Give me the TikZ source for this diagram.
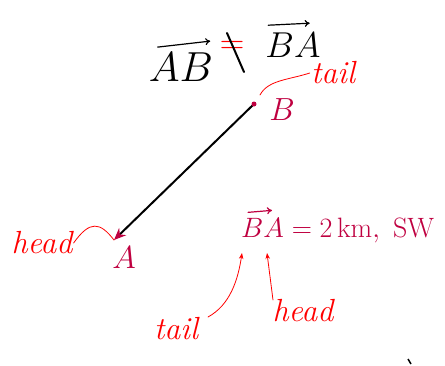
\documentclass[tikz,border=0pt]{standalone}
\usepackage{fix-cm}
\usepackage{amsmath}
\usetikzlibrary{arrows.meta, calc}

\begin{document}
\begin{tikzpicture}[x=1pt, y=-1pt,
    ink/.style={font=\fontsize{32}{34}\selectfont, inner sep=1pt},
    note/.style={red, font=\fontsize{32}{34}\selectfont\itshape, inner sep=1pt},
    vecbar/.style={line width=1.2pt, line cap=round, -{To[length=5pt, width=7pt]}},
    pointer/.style={red, thick, line cap=round}]
  \useasboundingbox (0,0) rectangle (445,365);
  % Title: AB is not BA
  \node[font=\fontsize{42}{44}\selectfont, anchor=base, inner sep=1pt] (ab) at (181,81) {$AB$};
  \draw[vecbar] ($(ab.north west)+(10,-4)$) -- ($(ab.north east)+(-4,-10)$);
  \node[red, font=\fontsize{34}{36}\selectfont, inner sep=0pt] (neq) at (232,47) {$=$};
  \draw[line width=2pt, line cap=round] (227,33) -- (244,72);
  \node[font=\fontsize{36}{38}\selectfont, anchor=base, inner sep=1pt] (ba) at (293,57) {$BA$};
  \draw[vecbar] ($(ba.north west)+(4,-6)$) -- ($(ba.north east)+(-12,-8)$);
  % The displacement from B to A
  \coordinate (B) at (254,104);
  \coordinate (A) at (114,240);
  \draw[line width=2pt, -{Stealth[purple, length=12pt, width=10pt]}] (B) -- (A);
  \fill[purple] (B) circle (2.5pt);
  \node[ink, purple] (labB) at (282,110) {$B$};
  \node[ink, purple] (labA) at (124,258) {$A$};
  % Tail and head labels on the segment
  \node[note] (tailB) at (333,73) {tail};
  \draw[pointer] (260,95) .. controls (268,80) and (288,80) .. (tailB.west);
  \node[note] (headA) at (42,243) {head};
  \draw[pointer] (headA.east) .. controls (90,220) and (100,222) .. (A);
  % Magnitude and direction
  \node[purple, font=\fontsize{28}{30}\selectfont, anchor=west, inner sep=1pt] (disp) at (240,230) {$BA = 2\,\mathrm{km},\ \mathrm{SW}$};
  \draw[vecbar, purple] ($(disp.north west)+(8,-4)$) -- ($(disp.north west)+(32,-6)$);
  \coordinate (inB) at (242,253);
  \coordinate (inA) at (267,253);
  \node[note] (tailBA) at (176,329) {tail};
  \draw[pointer, -{Stealth[length=6pt]}] (208,317) .. controls (230,305) and (238,280) .. (inB);
  \node[note] (headBA) at (303,311) {head};
  \draw[pointer, -{Stealth[length=6pt]}] (273,300) -- (inA);
  % stray pen mark
  \draw[line width=1.5pt] (408,359) -- (411,364);
\end{tikzpicture}
\end{document}
